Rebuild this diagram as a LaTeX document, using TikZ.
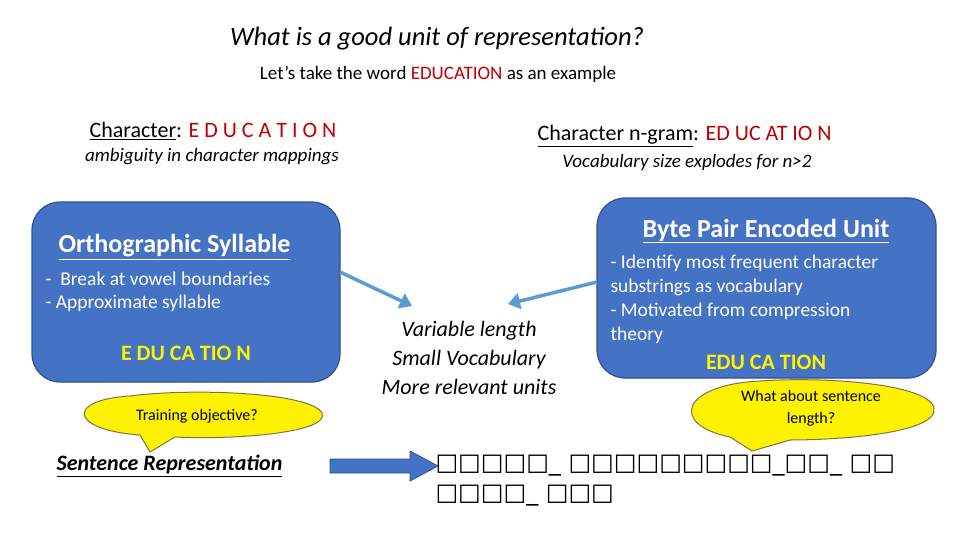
\documentclass[tikz,border=0pt]{standalone}
\usepackage{fontspec}
\setmainfont{Carlito}
\newfontfamily\dejavu{DejaVu Sans}
\usetikzlibrary{arrows.meta,shapes.geometric}
\definecolor{boxblue}{HTML}{4472C4}
\definecolor{boxedge}{HTML}{2F528F}
\definecolor{lblue}{HTML}{5B9BD5}
\definecolor{redt}{HTML}{C00000}
\tikzset{
 bluebox/.style={draw=boxedge,line width=1.2pt,fill=boxblue,rounded corners=28pt},
 callout/.style={draw=black!60!yellow,line width=1pt,fill=yellow},
 conn/.style={draw=lblue,line width=3.5pt,-{Triangle[length=12pt,width=16pt]}},
 wtext/.style={text=white,anchor=west,font=\fontsize{19.5}{22}\selectfont},
}
\begin{document}
\begin{tikzpicture}[x=1pt,y=-1pt]
\useasboundingbox (0,0) rectangle (960,540);
\node (title) at (437,39) {\fontsize{26.5}{30}\selectfont\itshape What is a good unit of representation?};
\node (sub) at (438,74) {\fontsize{19}{22}\selectfont Let's take the word \textcolor{redt}{EDUCATION} as an example};
\node[anchor=west] (char) at (86,131) {\fontsize{22}{26}\selectfont \underline{Character}: \textcolor{redt}{E D U C A T I O N}};
\node (amb) at (212,157) {\fontsize{19}{22}\selectfont\itshape ambiguity in character mappings};
\node[anchor=west] (ngram) at (534,136) {\fontsize{22}{26}\selectfont \underline{Character n-gram}: \textcolor{redt}{ED UC AT IO N}};
\node (voc) at (687,162) {\fontsize{19}{22}\selectfont\itshape Vocabulary size explodes for n>2};
\draw[bluebox] (32,202) rectangle (340,382);
\node (lbox) at (186,292) {};
\node[text=white,anchor=west] (ortho) at (55,247) {\fontsize{26}{30}\selectfont\bfseries\underline{Orthographic Syllable}};
\node[wtext] (l1) at (42,279) {-\ \ Break at vowel boundaries};
\node[wtext] (l2) at (42,303) {- Approximate syllable};
\node[text=yellow] (lsyl) at (186,353) {\fontsize{22}{26}\selectfont\bfseries E DU CA TIO N};
\draw[bluebox] (597,198) rectangle (936,378);
\node (rbox) at (766,288) {};
\node[text=white] (bpe) at (766,231) {\fontsize{26}{30}\selectfont\bfseries\underline{Byte Pair Encoded Unit}};
\node[wtext,align=left,anchor=north west,font=\fontsize{19.5}{24}\selectfont] (r1) at (607,251) {- Identify most frequent character\\substrings as vocabulary\\- Motivated from compression\\theory};
\node[text=yellow] (rsyl) at (766,362) {\fontsize{22}{26}\selectfont\bfseries EDU CA TION};
\node[align=center,font=\fontsize{22}{29}\selectfont\itshape] (mid) at (469,358) {Variable length\\Small Vocabulary\\More relevant units};
\coordinate (la) at (340,272);
\coordinate (ra) at (597,282);
\coordinate (lt) at (412,306);
\coordinate (rt) at (508,304);
\draw[conn] (la) -- (lt);
\draw[conn] (ra) -- (rt);
\draw[callout] (140,435) .. controls (70,430) and (65,400) .. (130,396) .. controls (190,388) and (310,392) .. (322,413) .. controls (330,432) and (240,440) .. (175,437) -- (150,452) -- cycle;
\node (train) at (197,416) {\fontsize{16}{19}\selectfont Training objective?};
\draw[callout] (730,437) .. controls (670,425) and (680,385) .. (760,381) .. controls (830,376) and (940,385) .. (934,412) .. controls (927,435) and (830,440) .. (790,440) -- (752,451) -- cycle;
\node[align=center,font=\fontsize{16}{22}\selectfont] (what) at (811,408) {What about sentence\\length?};
\node[anchor=west] (sent) at (53,466) {\fontsize{22}{26}\selectfont\bfseries\itshape\underline{Sentence Representation}};
\coordinate (ba) at (330,466);
\draw[draw=boxedge,fill=boxblue,line width=0.8pt] (ba) ++(0,-7) -- ++(80,0) -- ++(0,-8) -- ++(28,15) -- ++(-28,15) -- ++(0,-8) -- ++(-80,0) -- cycle;
\node[anchor=west,align=left,font=\dejavu\fontsize{24}{30}\selectfont] (boxes) at (432,481) {□□□□□\_ □□□□□□□□□\_□□\_ □□\\□□□□\_ □□□};
\end{tikzpicture}
\end{document}
